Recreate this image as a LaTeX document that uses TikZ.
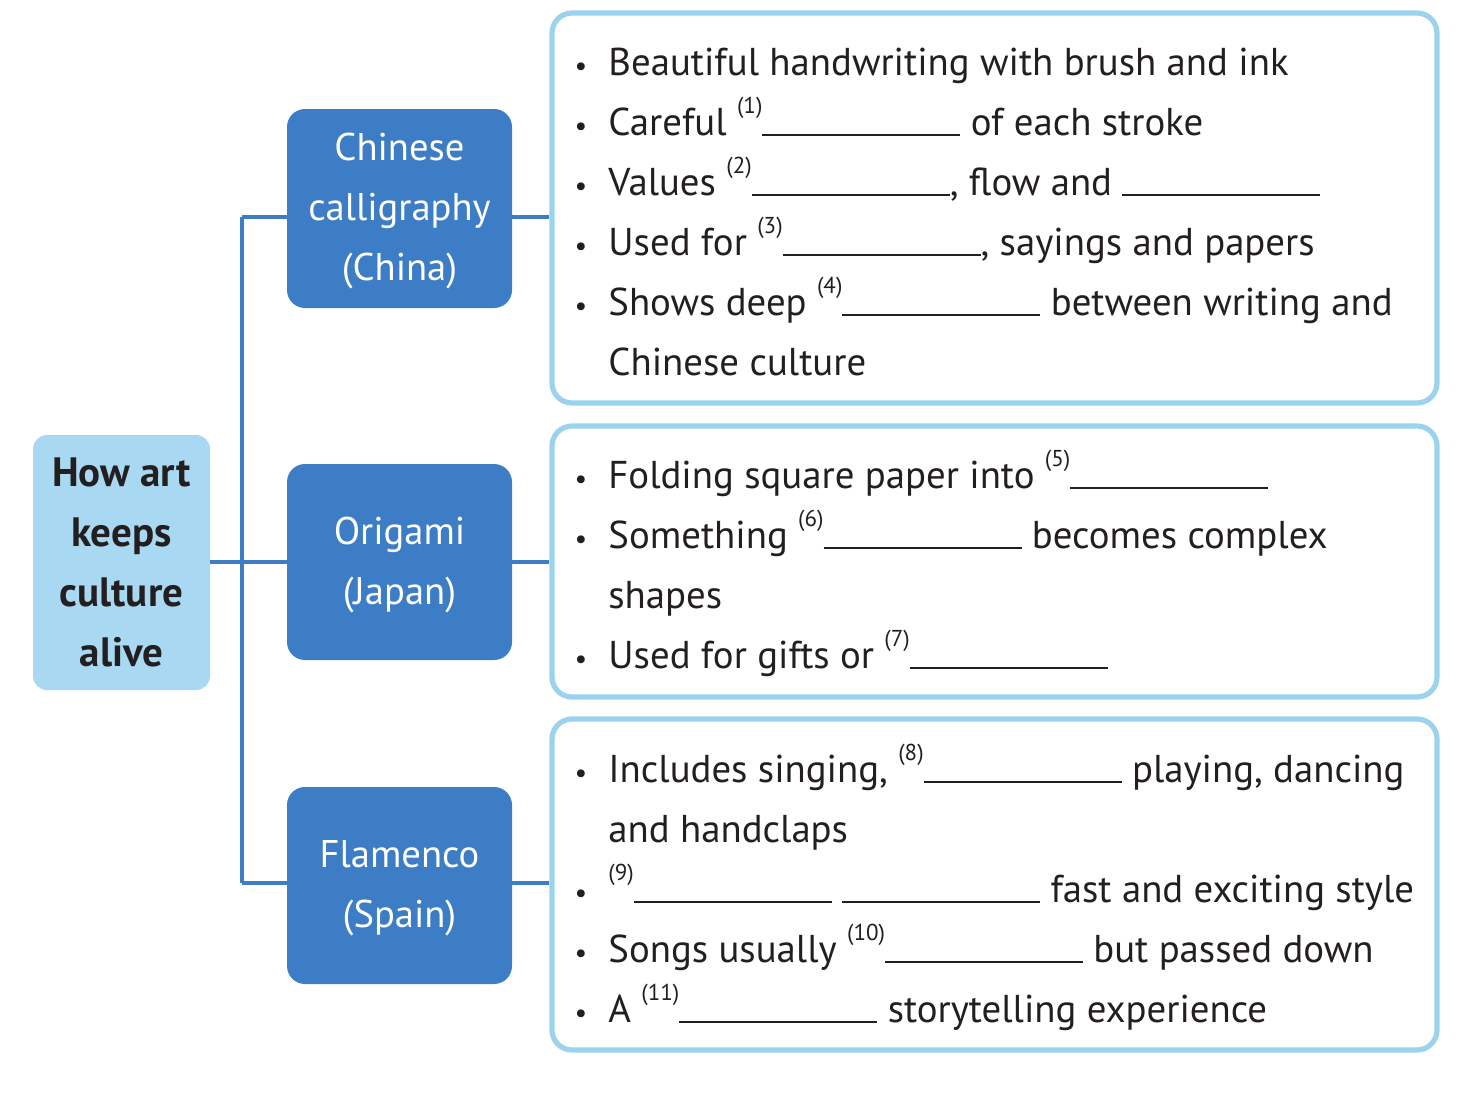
\documentclass[tikz,border=0pt]{standalone}
\usepackage{fontspec}
\setmainfont{PT Sans}
\definecolor{catblue}{HTML}{3C7DC6}
\definecolor{rootblue}{HTML}{A9D9F2}
\definecolor{frameblue}{HTML}{9BD3EF}
\definecolor{ink}{HTML}{231F20}
\newcommand{\blk}{\rule[-0.6pt]{99pt}{0.9pt}}
\newcommand{\sn}[1]{\raisebox{11pt}{\fontsize{11.5}{13}\selectfont(#1)}}
\begin{document}
\begin{tikzpicture}[x=0.5pt,y=-0.5pt,
  txt/.style={font=\fontsize{19.4}{24}\selectfont, text=ink},
  rootbox/.style={fill=rootblue, rounded corners=7pt, minimum width=88.5pt, inner sep=0pt,
     align=center, font=\fontsize{20.5}{30}\selectfont\bfseries, text=ink},
  catbox/.style={fill=catblue, rounded corners=9pt, minimum width=112.5pt, inner sep=0pt,
     align=center, font=\fontsize{19.3}{30}\selectfont, text=white},
  frame/.style={draw=frameblue, line width=2.6pt, fill=white, rounded corners=10pt,
     minimum width=442.5pt, inner sep=0pt},
  conn/.style={draw=catblue, line width=2pt},
  line/.style={txt, anchor=base west, inner sep=0pt},
  bul/.style={font=\fontsize{14}{16}\selectfont, text=ink, anchor=base, inner sep=0pt}
]
\useasboundingbox (0,0) rectangle (1472,1092);
% boxes
\node[rootbox, minimum height=127.5pt] (root) at (121.5,562.5) {How art\\keeps\\culture\\alive};
\node[catbox, minimum height=99.5pt] (cat1) at (399.5,208.5) {\raisebox{-2.5pt}{\begin{tabular}{@{}c@{}}Chinese\\calligraphy\\(China)\end{tabular}}};
\node[catbox, minimum height=98pt] (cat2) at (399.5,562) {\raisebox{-2pt}{\begin{tabular}{@{}c@{}}Origami\\(Japan)\end{tabular}}};
\node[catbox, minimum height=98.5pt] (cat3) at (399.5,885.5) {\raisebox{-2pt}{\begin{tabular}{@{}c@{}}Flamenco\\(Spain)\end{tabular}}};
\node[frame, minimum height=195pt] (box1) at (994.5,208) {};
\node[frame, minimum height=135.5pt] (box2) at (994.5,561.5) {};
\node[frame, minimum height=165.5pt] (box3) at (994.5,884.5) {};
% connectors
\coordinate (j1) at (242,217);
\coordinate (j2) at (242,562);
\coordinate (j3) at (242,883);
\draw[conn] (j1) -- (j3);
\draw[conn] (root.east |- j2) -- (j2) -- (j2 -| cat2.west);
\draw[conn] (j1) -- (j1 -| cat1.west);
\draw[conn] (j3) -- (j3 -| cat3.west);
\draw[conn] (cat1.east |- j1) -- (j1 -| box1.west);
\draw[conn] (cat2.east |- j2) -- (j2 -| box2.west);
\draw[conn] (cat3.east |- j3) -- (j3 -| box3.west);
% bullets
\foreach \y/\n in {75/a1,135/a2,195/a3,255/a4,315/a5,488/b1,548/b2,668/b4,782/c1,902/c3,962/c4,1022/c5}
  \node[bul] (d\n) at (581,\y) {\textbullet};
% box 1 text
\node[line] (a1) at (608,75) {Beautiful handwriting with brush and ink};
\node[line] (a2) at (608,135) {Careful \sn{1}\blk{} of each stroke};
\node[line] (a3) at (608,195) {Values \sn{2}\blk, flow and \blk};
\node[line] (a4) at (608,255) {Used for \sn{3}\blk, sayings and papers};
\node[line] (a5) at (608,315) {Shows deep \sn{4}\blk{} between writing and};
\node[line] (a6) at (608,375) {Chinese culture};
% box 2 text
\node[line] (b1) at (608,488) {Folding square paper into \sn{5}\blk};
\node[line] (b2) at (608,548) {Something \sn{6}\blk{} becomes complex};
\node[line] (b3) at (608,608) {shapes};
\node[line] (b4) at (608,668) {Used for gifts or \sn{7}\blk};
% box 3 text
\node[line] (c1) at (608,782) {Includes singing, \sn{8}\blk{} playing, dancing};
\node[line] (c2) at (608,842) {and handclaps};
\node[line] (c3) at (608,902) {\sn{9}\blk{} \blk{} fast and exciting style};
\node[line] (c4) at (608,962) {Songs usually \sn{10}\blk{} but passed down};
\node[line] (c5) at (608,1022) {A \sn{11}\blk{} storytelling experience};
\end{tikzpicture}
\end{document}
